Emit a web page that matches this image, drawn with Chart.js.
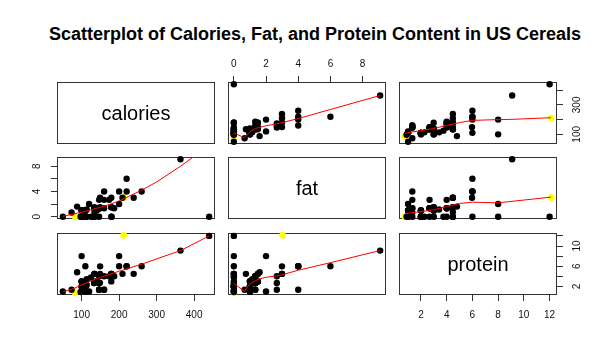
<!DOCTYPE html>
<html>
<head>
<meta charset="utf-8">
<title>US Cereals scatterplot matrix</title>
<script src="https://cdn.jsdelivr.net/npm/chart.js@4.4.0/dist/chart.umd.min.js"></script>
<style>
  body { margin: 0; background: #fff; width: 614px; height: 353px; position: relative; overflow: hidden;
         font-family: "Liberation Sans", Arial, Helvetica, sans-serif; color: #000; }
  #title { position: absolute; left: 8px; top: 25px; width: 614px; text-align: center;
           font-weight: bold; font-size: 18px; line-height: 18px; }
  .panel { position: absolute; }
  .diag { position: absolute; box-sizing: border-box; border: 1px solid #333;
          display: flex; align-items: center; justify-content: center; font-size: 20px; }
  .diag.bare { border: none; }
</style>
</head>
<body>
<div id="title">Scatterplot of Calories, Fat, and Protein Content in US Cereals</div>
<script>
'use strict';

/* ==========================================================================
   1. DATA (UScereal, per serving)
   ========================================================================== */
const calories = [
  212.1, 212.1, 100, 146.7, 110, 173.3, 134.3, 134.3, 160, 88,
  160, 220, 110, 110, 100, 110, 110, 220, 110, 133.3,
  133.3, 110, 146.7, 125, 179.1, 179.1, 146.7, 113.6, 146.7, 113.6,
  440, 363.6, 120, 146.7, 82.7, 186.7, 73.3, 149.3, 110, 238.8,
  100, 179.1, 209, 260, 179.1, 100, 50, 200, 160, 200,
  180, 97.3, 110, 134.3, 134.3, 146.7, 110, 110, 140, 100,
  146.7, 110, 149.3, 100, 148.6
];
const protein = [
  12.12, 12.12, 8, 2.67, 2, 4, 2.99, 4.48, 1.33, 4.8,
  1.33, 6, 1, 2, 2, 1, 1, 6, 2, 2.67,
  2.67, 2, 1.33, 3.75, 4.48, 4.48, 1.33, 2.27, 1.33, 3.41,
  12, 9.09, 1, 4, 0.75, 4, 1.33, 5.97, 2, 4.48,
  2, 2.99, 4.48, 6, 4.48, 3, 1, 8, 4, 6,
  4, 0.88, 2, 4.48, 4.48, 2.67, 6, 2, 3, 3,
  2.67, 1, 4.48, 3, 2.7
];
const fat = [
  3.03, 3.03, 0, 2.67, 0, 2.67, 1.49, 0, 2.67, 1.6,
  4, 4, 1, 0, 0, 0, 1, 6, 0, 1.33,
  0, 1, 0, 0, 2.99, 0, 1.33, 0, 1.33, 1.14,
  0, 9.09, 2, 1.33, 0, 1.33, 0.67, 2.99, 1, 2.99,
  1, 1.49, 2.99, 4, 1.49, 0, 0, 2, 1.33, 4,
  0, 0, 0, 0, 0.75, 1.33, 0, 1, 1, 1,
  1.33, 1, 1.49, 1, 1.35
];
// cereals drawn in yellow (100% Bran, All-Bran, Honey-comb)
const highlighted = [0, 1, 34];

// tick positions and which of them carry a label on the side axes
const calTicks = [100, 200, 300, 400];
const fatTicks = [0, 2, 4, 6, 8];
const proteinTicks = [2, 4, 6, 8, 10, 12];
const calSideLabels = [100, 300];
const fatSideLabels = [0, 4, 8];
const proteinSideLabels = [2, 6, 10];

// red smoother curves
const smoothFatCalX = [0, 0.67, 0.75, 1, 1.33, 1.5, 2, 2.67, 3, 4, 6, 9.09];
const smoothFatCalY = [110, 76, 88, 118, 138, 145, 158, 172, 180, 207, 269, 364];
const smoothProtCalX = [0.75, 1, 2, 3, 4, 5, 6, 8, 9.09, 12.12];
const smoothProtCalY = [105, 112, 125, 140, 160, 180, 195, 200, 202, 213];
const smoothCalFatX = [50, 80, 100, 125, 150, 175, 200, 225, 260, 300, 364, 440];
const smoothCalFatY = [0.05, 0.45, 0.7, 1.1, 1.5, 1.95, 2.5, 3.2, 4.2, 5.5, 8.0, 11.3];
const smoothProtFatX = [0.75, 1, 2, 3, 4, 5, 6, 8, 12.12];
const smoothProtFatY = [0.45, 0.55, 0.8, 1.1, 1.6, 2.1, 2.3, 2.2, 3.1];
const smoothCalProtX = [50, 80, 100, 125, 150, 175, 200, 260, 364, 440];
const smoothCalProtY = [0.9, 1.6, 2.3, 3.1, 3.8, 4.4, 5.0, 6.4, 9.1, 12.0];
const smoothFatProtX = [0, 0.67, 0.75, 1, 1.33, 1.5, 2, 2.67, 3, 4, 6, 9.09];
const smoothFatProtY = [2.6, 1.0, 1.5, 2.5, 3.1, 3.4, 3.8, 4.1, 4.3, 5.2, 6.7, 9.1];

/* ==========================================================================
   2. LAYOUT
   ========================================================================== */
const FONT = '"Liberation Sans", Arial, Helvetica, sans-serif';
const COLS = [57, 228, 399];
const ROWS = [82, 157, 233];
const PW = 158, PH = 62;   // panel box
const M = 34;              // canvas margin around a panel
const A = 30;              // forced axis thickness

const series = { calories, fat, protein };
const tickSets = { calories: calTicks, fat: fatTicks, protein: proteinTicks };
const sideLabels = { calories: calSideLabels, fat: fatSideLabels, protein: proteinSideLabels };

// R's default 4% range extension
function rRange(vals) {
  const lo = Math.min(...vals), hi = Math.max(...vals), d = (hi - lo) * 0.04;
  return [lo - d, hi + d];
}
const limits = { calories: rRange(calories), fat: rRange(fat), protein: rRange(protein) };

const framePlugin = {
  id: 'frame',
  beforeDatasetsDraw(chart) {
    const { ctx, chartArea: a } = chart;
    ctx.save();
    ctx.strokeStyle = '#333';
    ctx.lineWidth = 1;
    ctx.strokeRect(a.left + 0.5, a.top + 0.5, a.width - 1, a.height - 1);
    ctx.restore();
  }
};

function makeScale(v, pos, show, labels, pad) {
  const vertical = pos === 'left' || pos === 'right';
  return {
    type: 'linear',
    position: pos,
    display: show,
    min: limits[v][0],
    max: limits[v][1],
    afterBuildTicks: s => { s.ticks = tickSets[v].map(value => ({ value })); },
    afterFit: s => {
      if (!show) return;
      if (vertical) s.width = A; else s.height = A;
    },
    grid: { drawOnChartArea: false, drawTicks: true, tickLength: 6, color: '#333', lineWidth: 1 },
    border: { display: false },
    ticks: {
      autoSkip: false,
      padding: pad,
      color: '#111',
      font: { family: FONT, size: 10 },
      minRotation: vertical ? 90 : 0,
      maxRotation: vertical ? 90 : 0,
      crossAlign: vertical ? 'center' : 'near',
      callback: val => (labels.includes(val) ? String(val) : '')
    }
  };
}

function toPoints(xs, ys) {
  return xs.map((x, i) => ({ x, y: ys[i] }));
}

const panels = [
  { r: 0, c: 1, x: 'fat', y: 'calories', sx: smoothFatCalX, sy: smoothFatCalY, top: true },
  { r: 0, c: 2, x: 'protein', y: 'calories', sx: smoothProtCalX, sy: smoothProtCalY, right: true },
  { r: 1, c: 0, x: 'calories', y: 'fat', sx: smoothCalFatX, sy: smoothCalFatY, left: true },
  { r: 1, c: 2, x: 'protein', y: 'fat', sx: smoothProtFatX, sy: smoothProtFatY },
  { r: 2, c: 0, x: 'calories', y: 'protein', sx: smoothCalProtX, sy: smoothCalProtY, bottom: true },
  { r: 2, c: 1, x: 'fat', y: 'protein', sx: smoothFatProtX, sy: smoothFatProtY },
  { r: 2, c: 2, x: 'protein', y: 'protein', diag: true, bottom: true, right: true }
];

const rightPad = { calories: 6, protein: 9, fat: 9 };

/* ==========================================================================
   3. PANELS
   ========================================================================== */
panels.forEach(p => {
  const wrap = document.createElement('div');
  wrap.className = 'panel';
  wrap.style.left = (COLS[p.c] - M) + 'px';
  wrap.style.top = (ROWS[p.r] - M) + 'px';
  const cv = document.createElement('canvas');
  cv.width = PW + 2 * M;
  cv.height = PH + 2 * M;
  wrap.appendChild(cv);
  document.body.appendChild(wrap);

  const datasets = [];
  if (!p.diag) {
    const xs = series[p.x], ys = series[p.y];
    datasets.push({
      data: toPoints(p.sx, p.sy),
      showLine: true,
      borderColor: '#ff0000',
      borderWidth: 1,
      pointRadius: 0,
      order: 0
    });
    datasets.push({
      data: toPoints(xs, ys),
      pointRadius: 3.2,
      pointBorderWidth: 0,
      pointBackgroundColor: xs.map((_, i) => (highlighted.includes(i) ? '#ffff00' : '#000')),
      clip: false,
      order: 1
    });
  }

  const xPos = p.top ? 'top' : 'bottom';
  const yPos = p.left ? 'left' : 'right';
  new Chart(cv, {
    type: 'scatter',
    data: { datasets },
    options: {
      responsive: false,
      devicePixelRatio: 1,
      animation: false,
      events: [],
      layout: {
        autoPadding: false,
        padding: {
          left: p.left ? M - A : M,
          right: p.right ? M - A : M,
          top: p.top ? M - A : M,
          bottom: p.bottom ? M - A : M
        }
      },
      scales: {
        x: makeScale(p.x, xPos, !!(p.top || p.bottom), tickSets[p.x], p.top ? 6 : 8),
        y: makeScale(p.y, yPos, !!(p.left || p.right), sideLabels[p.y], p.left ? 11 : rightPad[p.y])
      },
      plugins: { legend: { display: false }, tooltip: { enabled: false } }
    },
    plugins: [framePlugin]
  });
});

// diagonal name panels
[['calories', 0, true], ['fat', 1, true], ['protein', 2, false]].forEach(([name, k, boxed]) => {
  const d = document.createElement('div');
  d.className = boxed ? 'diag' : 'diag bare';
  d.style.left = COLS[k] + 'px';
  d.style.top = ROWS[k] + 'px';
  d.style.width = PW + 'px';
  d.style.height = PH + 'px';
  d.textContent = name;
  document.body.appendChild(d);
});
</script>
</body>
</html>
